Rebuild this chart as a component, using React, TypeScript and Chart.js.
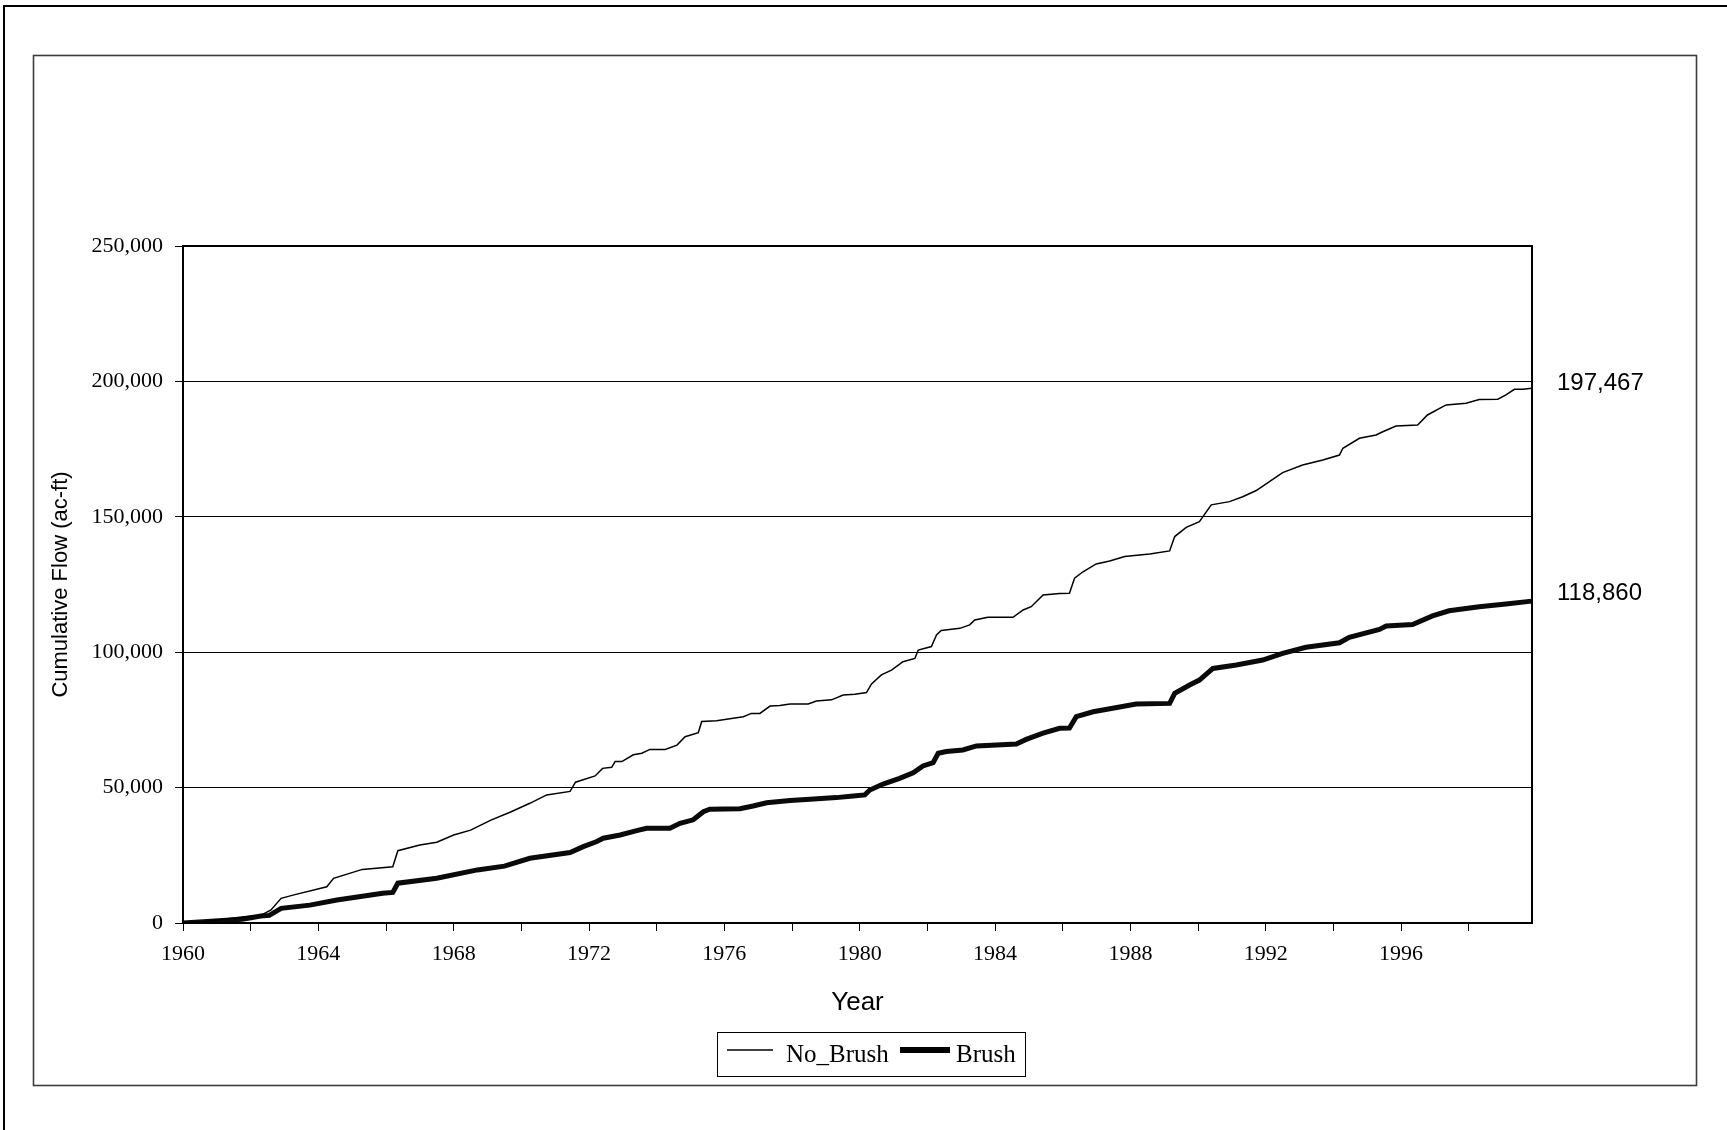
import React, { useEffect, useRef } from 'react';
import { Chart, registerables } from 'chart.js';

Chart.register(...registerables);

const seriesNames = ['No_Brush', 'Brush'];

const noBrushYears = [
  1960.0, 1960.6, 1961.8, 1962.3, 1962.6, 1962.9, 1963.25, 1964.25, 1964.45, 1965.3,
  1966.2, 1966.35, 1967.0, 1967.5, 1968.0, 1968.5, 1969.1, 1969.7, 1970.25, 1970.75,
  1971.44, 1971.6, 1972.18, 1972.4, 1972.67, 1972.77, 1972.97, 1973.31, 1973.56, 1973.8,
  1974.25, 1974.6, 1974.84, 1975.23, 1975.33, 1975.77, 1976.26, 1976.56, 1976.8, 1977.05,
  1977.35, 1977.64, 1977.94, 1978.48, 1978.72, 1979.17, 1979.51, 1979.86, 1980.2, 1980.35,
  1980.64, 1980.94, 1981.28, 1981.63, 1981.73, 1982.12, 1982.27, 1982.41, 1982.96, 1983.25,
  1983.4, 1983.79, 1984.53, 1984.83, 1985.07, 1985.42, 1985.91, 1986.2, 1986.35, 1986.6,
  1986.99, 1987.39, 1987.83, 1988.57, 1989.16, 1989.31, 1989.65, 1990.04, 1990.39, 1990.93,
  1991.32, 1991.72, 1992.11, 1992.5, 1993.09, 1993.69, 1994.18, 1994.28, 1994.77, 1995.26,
  1995.46, 1995.85, 1996.49, 1996.78, 1997.33, 1997.92, 1998.31, 1998.86, 1999.1, 1999.35,
  1999.6, 1999.86,
];
const noBrushFlow = [
  0, 500, 2300, 2800, 4800, 9100, 10300, 13400, 16500, 19800,
  20800, 26700, 28800, 29800, 32500, 34300, 38000, 41100, 44200, 47300,
  48600, 52000, 54300, 57100, 57500, 59600, 59600, 62100, 62700, 64100,
  64100, 65700, 68800, 70300, 74400, 74700, 75600, 76200, 77400, 77400,
  80100, 80300, 80900, 80900, 82000, 82400, 84200, 84500, 85100, 88300,
  91600, 93400, 96500, 97700, 100800, 102100, 106400, 108000, 108800, 110100,
  111900, 112900, 112900, 115600, 116800, 121100, 121700, 121800, 127300, 129700,
  132600, 133700, 135300, 136300, 137400, 142700, 146100, 148200, 154400, 155600,
  157400, 159700, 163000, 166300, 169100, 171000, 172800, 175300, 179000, 180200,
  181400, 183500, 183900, 187600, 191300, 191900, 193300, 193400, 195000, 197100,
  197100, 197467,
];

const brushYears = [
  1960.0, 1960.6, 1961.75, 1962.3, 1962.55, 1962.9, 1963.75, 1964.55, 1965.9, 1966.2,
  1966.35, 1967.5, 1968.7, 1969.5, 1970.25, 1971.44, 1971.83, 1972.23, 1972.42, 1972.92,
  1973.41, 1973.7, 1974.39, 1974.69, 1975.08, 1975.38, 1975.57, 1976.46, 1976.85, 1977.25,
  1977.94, 1978.53, 1979.31, 1979.81, 1980.15, 1980.3, 1980.69, 1981.18, 1981.58, 1981.87,
  1982.17, 1982.32, 1982.56, 1983.05, 1983.45, 1984.63, 1984.92, 1985.42, 1985.91, 1986.2,
  1986.4, 1986.9, 1987.6, 1988.17, 1989.16, 1989.31, 1989.75, 1990.04, 1990.44, 1991.13,
  1991.91, 1992.5, 1993.19, 1994.18, 1994.47, 1995.36, 1995.56, 1996.34, 1996.93, 1997.42,
  1998.31, 1999.1, 1999.86,
];
const brushFlow = [
  0, 500, 1400, 2600, 2800, 5400, 6600, 8500, 11000, 11300,
  14700, 16500, 19600, 21000, 23900, 26000, 28200, 30100, 31300, 32500,
  34100, 35000, 35000, 36800, 38100, 41100, 42000, 42200, 43200, 44400,
  45200, 45700, 46300, 46900, 47300, 49100, 51300, 53400, 55500, 58000,
  59200, 62700, 63300, 63900, 65400, 66100, 67800, 70100, 71900, 72000,
  76200, 78000, 79600, 80900, 81100, 84800, 87900, 89700, 94000, 95300,
  97100, 99600, 101800, 103500, 105500, 108400, 109700, 110200, 113400, 115300,
  116800, 117800, 118860,
];

const xMin = 1960;
const xMax = 1999.87;
const xStep = 2;
const xLabelEvery = 4;
const yMin = 0;
const yMax = 250000;
const yStep = 50000;

const W = 1727;
const H = 1130;
const SERIF = '"Liberation Serif", "Times New Roman", serif';
const SANS = '"Liberation Sans", Arial, sans-serif';

const fmt = (v: number) => Math.round(v).toLocaleString('en-US');

const decorPlugin = {
  id: 'decor',
  beforeDraw(chart: any) {
    const ctx = chart.ctx;
    ctx.save();
    ctx.fillStyle = '#ffffff';
    ctx.fillRect(0, 0, W, H);
    // outer border
    ctx.strokeStyle = '#000';
    ctx.lineWidth = 2;
    ctx.strokeRect(4, 6, W + 50, H + 50);
    // inner chart frame
    ctx.strokeStyle = '#3c3c3c';
    ctx.lineWidth = 1.6;
    ctx.strokeRect(33.5, 55.5, 1663, 1030);
    ctx.restore();
  },
  afterDraw(chart: any) {
    const ctx = chart.ctx;
    const { left, right, top, bottom } = chart.chartArea;
    ctx.save();
    // plot frame
    ctx.strokeStyle = '#000';
    ctx.lineWidth = 2;
    ctx.strokeRect(left, top, right - left, bottom - top);

    // end-value labels
    const ys = chart.scales.y;
    ctx.fillStyle = '#000';
    ctx.font = `24px ${SANS}`;
    ctx.textAlign = 'left';
    ctx.textBaseline = 'middle';
    const lastNo = noBrushFlow[noBrushFlow.length - 1];
    const lastBr = brushFlow[brushFlow.length - 1];
    ctx.fillText(fmt(lastNo), right + 25, ys.getPixelForValue(lastNo) - 5);
    ctx.fillText(fmt(lastBr), right + 25, ys.getPixelForValue(lastBr) - 8);

    // legend
    const lx = 717.5, ly = 1032.5, lw = 308, lh = 44;
    ctx.strokeStyle = '#000';
    ctx.lineWidth = 1;
    ctx.strokeRect(lx, ly, lw, lh);
    const midY = 1050;
    ctx.beginPath();
    ctx.lineWidth = 1.5;
    ctx.moveTo(727, midY);
    ctx.lineTo(773, midY);
    ctx.stroke();
    ctx.beginPath();
    ctx.lineWidth = 6;
    ctx.moveTo(900, midY);
    ctx.lineTo(950, midY);
    ctx.stroke();
    ctx.font = `25px ${SERIF}`;
    ctx.textBaseline = 'alphabetic';
    ctx.fillText(seriesNames[0], 786, 1062);
    ctx.fillText(seriesNames[1], 956, 1062);
    ctx.restore();
  },
};

export default function App() {
  const canvasRef = useRef<HTMLCanvasElement | null>(null);

  useEffect(() => {
    const canvas = canvasRef.current;
    if (!canvas) return;
    const chart = new Chart(canvas, {
      type: 'line',
      data: {
        datasets: [
          {
            label: seriesNames[0],
            data: noBrushYears.map((x, i) => ({ x, y: noBrushFlow[i] })),
            borderColor: '#000',
            borderWidth: 1.5,
            pointRadius: 0,
            tension: 0,
            fill: false,
          },
          {
            label: seriesNames[1],
            data: brushYears.map((x, i) => ({ x, y: brushFlow[i] })),
            borderColor: '#0a0a0a',
            borderWidth: 5,
            pointRadius: 0,
            tension: 0,
            fill: false,
          },
        ],
      },
      options: {
        responsive: false,
        animation: false,
        devicePixelRatio: 1,
        layout: { padding: { left: 0, top: 246, right: W - 1532, bottom: 105 } },
        plugins: {
          legend: { display: false },
          tooltip: { enabled: false },
          title: { display: false },
        },
        scales: {
          x: {
            type: 'linear',
            min: xMin,
            max: xMax,
            afterFit: (s: any) => { s.height = 102; },
            ticks: {
              stepSize: xStep,
              includeBounds: false,
              autoSkip: false,
              maxRotation: 0,
              padding: 10,
              color: '#000',
              font: { family: SERIF, size: 22 },
              callback: (v: any) => {
                const n = Number(v);
                return Math.abs(n % xLabelEvery) < 1e-6 ? String(n) : '';
              },
            },
            grid: {
              drawOnChartArea: false,
              drawTicks: true,
              tickLength: 8,
              color: '#000',
              lineWidth: 1,
            },
            border: { display: true, color: '#000', width: 2 },
            title: {
              display: true,
              text: 'Year',
              color: '#000',
              font: { family: SANS, size: 26 },
              padding: { top: 0, bottom: 7 },
            },
          },
          y: {
            type: 'linear',
            min: yMin,
            max: yMax,
            afterFit: (s: any) => { s.width = 183; },
            ticks: {
              stepSize: yStep,
              padding: 12,
              color: '#000',
              font: { family: SERIF, size: 22 },
              callback: (v: any) => fmt(Number(v)),
            },
            grid: {
              drawOnChartArea: true,
              drawTicks: true,
              tickLength: 8,
              color: '#000',
              lineWidth: 1,
            },
            border: { display: true, color: '#000', width: 2 },
            title: {
              display: true,
              text: 'Cumulative Flow (ac-ft)',
              color: '#000',
              font: { family: SANS, size: 22 },
              padding: { top: 48, bottom: 0 },
            },
          },
        },
      },
      plugins: [decorPlugin],
    });
    return () => chart.destroy();
  }, []);

  return (
    <div style={{ position: 'fixed', left: 0, top: 0, width: W, height: H, background: '#fff' }}>
      <canvas ref={canvasRef} width={W} height={H} style={{ display: 'block', width: W, height: H }} />
    </div>
  );
}
